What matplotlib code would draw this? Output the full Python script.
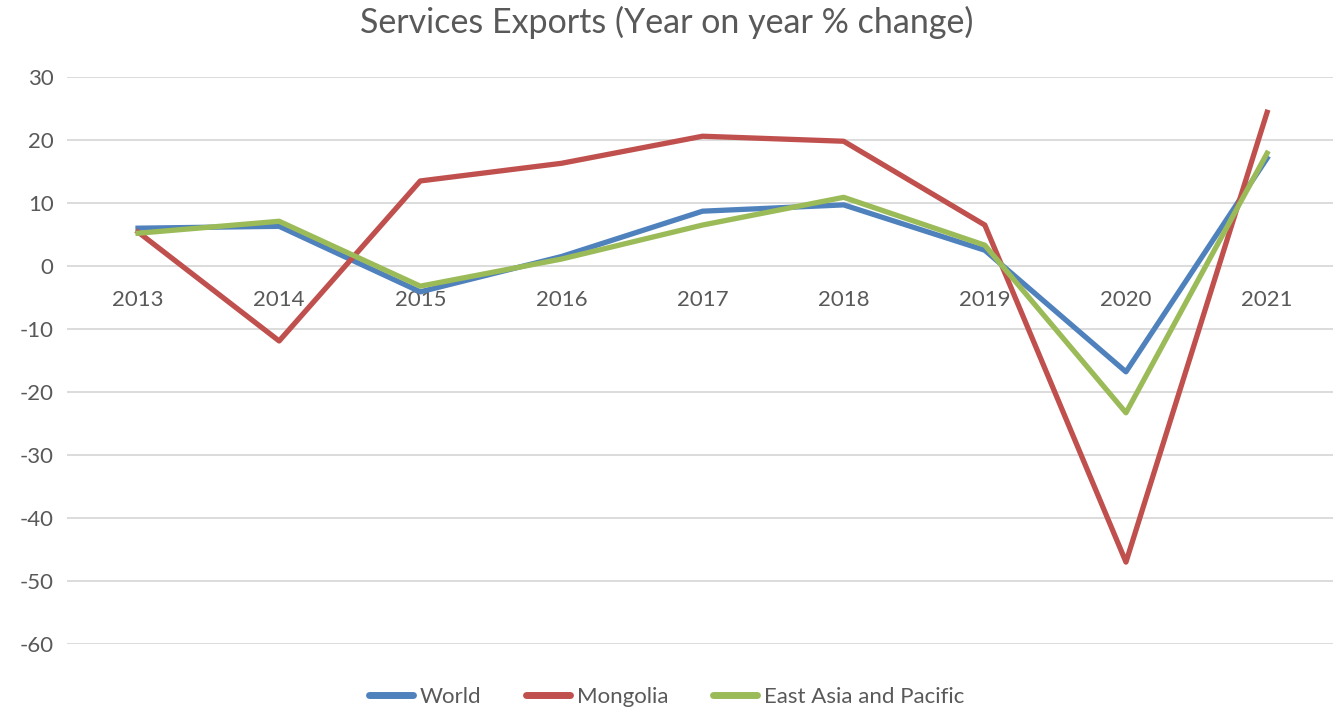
import matplotlib
matplotlib.use("Agg")
import matplotlib.pyplot as plt

years = ["2013", "2014", "2015", "2016", "2017", "2018", "2019", "2020", "2021"]
world = [6.0, 6.3, -4.1, 1.5, 8.7, 9.7, 2.5, -16.8, 17.1]
mongolia = [5.4, -11.9, 13.5, 16.3, 20.6, 19.8, 6.5, -47.0, 24.4]
eap = [5.2, 7.1, -3.2, 1.1, 6.5, 10.9, 3.3, -23.3, 17.9]
yticks = [30, 20, 10, 0, -10, -20, -30, -40, -50, -60]

plt.rcParams['font.family'] = ['Lato', 'DejaVu Sans']
grey = '#595959'

fig = plt.figure(figsize=(13.33, 7.09), dpi=100)
ax = fig.add_axes([0.0506, 0.0917, 0.9529, 0.7997])

x = list(range(len(years)))
ax.plot(x, world, color='#4F81BD', lw=3.8, label='World', solid_joinstyle='round')
ax.plot(x, mongolia, color='#C0504D', lw=3.8, label='Mongolia', solid_joinstyle='round')
ax.plot(x, eap, color='#9BBB59', lw=3.8, label='East Asia and Pacific', solid_joinstyle='round')

ax.set_xlim(-0.5, len(years) - 0.5)
ax.set_ylim(-60, 30)
ax.set_yticks(yticks)
ax.set_yticklabels([str(v) for v in yticks])
ax.set_xticks(x)
ax.set_xticklabels(years)
ax.grid(axis='y', color='#D9D9D9', lw=1.3)
ax.set_axisbelow(True)
for s in ax.spines.values():
    s.set_visible(False)
ax.spines['bottom'].set_position(('data', 0))
ax.tick_params(axis='both', length=0, labelsize=16, colors=grey)
ax.tick_params(axis='x', pad=17)
ax.tick_params(axis='y', pad=10)

fig.suptitle('Services Exports (Year on year % change)', y=0.992, fontsize=24.5, color=grey)

leg = fig.legend(loc='lower center', bbox_to_anchor=(0.5, -0.025), ncol=3, frameon=False,
                 fontsize=16, handlelength=2.0, handletextpad=0.3, columnspacing=2.0)
for line in leg.get_lines():
    line.set_linewidth(5)
    line.set_solid_capstyle('round')
for t in leg.get_texts():
    t.set_color(grey)

fig.savefig('out.png', dpi=100)
